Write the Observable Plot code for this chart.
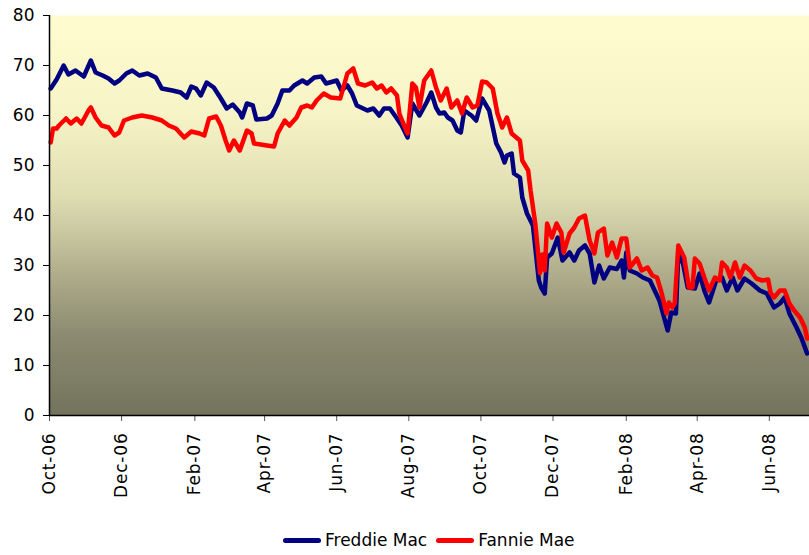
<!DOCTYPE html>
<html><head><meta charset="utf-8">
<script src="https://cdn.jsdelivr.net/npm/d3@7"></script>
<script src="https://cdn.jsdelivr.net/npm/@observablehq/plot@0.6"></script>
<style>
body{margin:0;background:#fff;font-family:"DejaVu Sans",sans-serif;}
#wrap{position:relative;width:809px;height:555px;overflow:hidden;}
#legend{position:absolute;left:283px;top:530px;display:flex;align-items:center;font-size:17px;line-height:20px;color:#000;white-space:nowrap;}
.sw{display:inline-block;width:38px;height:5px;border-radius:2.5px;margin-right:4px;}
.item{display:flex;align-items:center;margin-right:9px;}
</style></head><body>
<div id="wrap"><div id="chart"></div><div id="legend"></div></div>
<script>
const seriesNames = ["Freddie Mac", "Fannie Mae"];
const seriesColors = ["#000080", "#ff0000"];
const yTicks = [0, 10, 20, 30, 40, 50, 60, 70, 80];
const xTickLabels = ["Oct-06","Dec-06","Feb-07","Apr-07","Jun-07","Aug-07","Oct-07","Dec-07","Feb-08","Apr-08","Jun-08"];
const xDomainDates = ["2006-10-01", "2008-07-05"];

const freddieDates = ["2006-10-02","2006-10-07","2006-10-13","2006-10-17","2006-10-23","2006-10-30","2006-11-05","2006-11-09","2006-11-15","2006-11-20","2006-11-25","2006-11-29","2006-12-05","2006-12-10","2006-12-16","2006-12-23","2006-12-30","2007-01-04","2007-01-13","2007-01-20","2007-01-25","2007-01-29","2007-02-02","2007-02-06","2007-02-11","2007-02-17","2007-02-23","2007-02-28","2007-03-05","2007-03-11","2007-03-13","2007-03-17","2007-03-22","2007-03-25","2007-04-03","2007-04-07","2007-04-12","2007-04-16","2007-04-22","2007-04-26","2007-05-03","2007-05-07","2007-05-13","2007-05-19","2007-05-23","2007-06-01","2007-06-05","2007-06-10","2007-06-14","2007-06-18","2007-06-27","2007-07-02","2007-07-07","2007-07-11","2007-07-16","2007-07-22","2007-07-26","2007-07-31","2007-08-04","2007-08-10","2007-08-16","2007-08-20","2007-08-24","2007-08-27","2007-08-31","2007-09-03","2007-09-07","2007-09-11","2007-09-14","2007-09-17","2007-09-23","2007-09-27","2007-10-02","2007-10-08","2007-10-14","2007-10-18","2007-10-21","2007-10-23","2007-10-27","2007-10-29","2007-11-03","2007-11-05","2007-11-09","2007-11-14","2007-11-19","2007-11-21","2007-11-24","2007-11-26","2007-11-30","2007-12-05","2007-12-09","2007-12-15","2007-12-19","2007-12-23","2007-12-28","2008-01-01","2008-01-05","2008-01-09","2008-01-13","2008-01-18","2008-01-24","2008-01-28","2008-01-30","2008-02-01","2008-02-04","2008-02-10","2008-02-15","2008-02-21","2008-02-25","2008-02-29","2008-03-04","2008-03-07","2008-03-10","2008-03-14","2008-03-16","2008-03-20","2008-03-24","2008-03-30","2008-04-03","2008-04-07","2008-04-11","2008-04-17","2008-04-22","2008-04-26","2008-05-01","2008-05-05","2008-05-11","2008-05-17","2008-05-24","2008-05-30","2008-06-01","2008-06-05","2008-06-10","2008-06-14","2008-06-18","2008-06-24","2008-06-28","2008-07-03"];
const freddieValues = [65.4,67.2,70,68.2,69,67.8,71,68.6,68,67.4,66.4,67,68.4,69,68,68.4,67.6,65.4,65,64.6,63.6,65.8,65.4,64,66.6,65.6,63.4,61.4,62.2,60.6,59.6,62.4,62,59.2,59.4,60,62.4,65,65,66,67,66.4,67.6,67.8,66.4,67,65,66,64.4,62,61,61.4,60,61.4,61.4,59.4,58,55.6,62.4,60,62.6,64.6,61.6,60.4,60.6,59.6,59,57,56.6,61,60,59,63.4,61,54.4,52.6,50.6,52,52.4,48.4,47.6,43.6,40.4,38,27,25.6,24.4,31.6,32.4,35.6,31,32.6,31,33,34,32.4,26.6,30,27.4,29.6,29.3,31,27.6,32.6,29,28.4,27.6,27,25,23,19.6,17,20.6,20.4,32.4,30.4,25.6,25.4,28.4,25,22.6,27,27.6,25,27.6,25,27.4,26.4,25,24.4,23.4,21.6,22.4,23.6,20.4,17.6,15.6,12.4];

const fannieDates = ["2006-10-02","2006-10-04","2006-10-07","2006-10-09","2006-10-15","2006-10-19","2006-10-24","2006-10-28","2006-11-03","2006-11-05","2006-11-09","2006-11-14","2006-11-20","2006-11-25","2006-11-29","2006-12-03","2006-12-10","2006-12-18","2006-12-27","2007-01-04","2007-01-10","2007-01-16","2007-01-23","2007-01-29","2007-02-05","2007-02-09","2007-02-13","2007-02-19","2007-02-23","2007-02-27","2007-03-02","2007-03-06","2007-03-11","2007-03-17","2007-03-21","2007-03-23","2007-04-03","2007-04-09","2007-04-12","2007-04-18","2007-04-22","2007-04-28","2007-05-02","2007-05-07","2007-05-11","2007-05-15","2007-05-21","2007-05-27","2007-06-04","2007-06-10","2007-06-15","2007-06-19","2007-06-25","2007-07-01","2007-07-05","2007-07-09","2007-07-13","2007-07-17","2007-07-22","2007-07-24","2007-07-27","2007-07-31","2007-08-04","2007-08-07","2007-08-10","2007-08-14","2007-08-20","2007-08-24","2007-08-28","2007-09-02","2007-09-06","2007-09-11","2007-09-15","2007-09-19","2007-09-24","2007-09-28","2007-10-02","2007-10-06","2007-10-11","2007-10-15","2007-10-19","2007-10-23","2007-10-27","2007-11-03","2007-11-05","2007-11-10","2007-11-12","2007-11-16","2007-11-20","2007-11-22","2007-11-24","2007-11-26","2007-11-30","2007-12-04","2007-12-08","2007-12-10","2007-12-15","2007-12-19","2007-12-23","2007-12-28","2008-01-01","2008-01-05","2008-01-08","2008-01-13","2008-01-16","2008-01-20","2008-01-24","2008-01-28","2008-02-01","2008-02-04","2008-02-10","2008-02-14","2008-02-19","2008-02-23","2008-02-27","2008-03-02","2008-03-06","2008-03-08","2008-03-11","2008-03-13","2008-03-16","2008-03-21","2008-03-25","2008-03-28","2008-03-30","2008-04-03","2008-04-07","2008-04-11","2008-04-16","2008-04-20","2008-04-22","2008-04-26","2008-04-29","2008-05-03","2008-05-07","2008-05-11","2008-05-16","2008-05-21","2008-05-26","2008-05-31","2008-06-02","2008-06-05","2008-06-10","2008-06-14","2008-06-18","2008-06-22","2008-06-27","2008-07-01","2008-07-03"];
const fannieValues = [54.6,57.4,57.4,58,59.4,58.4,59.4,58.4,61,61.6,59.6,58,57.6,56,56.6,59,59.6,60,59.6,59,58,57.4,55.6,56.8,56.4,56,59.4,59.8,58,55,53,55,53,57,56.4,54.4,54,53.8,56.4,59,58,59.6,61.6,62,61.6,63,64.4,63.6,63.4,68.4,69.4,66.4,66,66.6,65.4,66,64.6,65.4,64,60.4,58.6,56.4,66.4,65.6,61.6,67,69,65.6,63,65.4,61.6,63,60.4,63.6,61.6,62,66.8,66.6,65.4,60.4,57.6,59.6,56.4,55,51,49,45,38.4,28.5,32.2,29,38.4,35.6,38.4,36.6,32.6,36.4,37.6,39.4,40,35,32.4,36.6,37.4,32,34.6,31.6,35.4,35.4,29.6,31.4,29,29.6,28,27.6,24.4,20.4,22.6,21.6,22.5,34,31.6,25.6,25.6,31.4,30.4,27.6,25,27.6,27,30.6,29.6,27.6,30.6,27.6,30,29,27.4,27,27.2,24.6,23.6,25,25,22.4,21,19.6,17.6,15.4];

const parse = d3.utcParse("%Y-%m-%d");
const rows = [];
freddieDates.forEach((d, i) => rows.push({series: seriesNames[0], date: parse(d), value: freddieValues[i]}));
fannieDates.forEach((d, i) => rows.push({series: seriesNames[1], date: parse(d), value: fannieValues[i]}));
const xDomain = xDomainDates.map(parse);
const fmt = d3.utcFormat("%b-%y");
const xTicks = d3.utcMonth.range(xDomain[0], xDomain[1]).filter(d => xTickLabels.includes(fmt(d)));

const chart = Plot.plot({
  width: 809,
  height: 515,
  marginTop: 15,
  marginLeft: 49,
  marginRight: 0,
  marginBottom: 100,
  style: {fontFamily: "DejaVu Sans, sans-serif", fontSize: "17px", color: "#000", background: "transparent", overflow: "visible"},
  x: {type: "utc", domain: xDomain},
  y: {domain: [0, 80]},
  color: {domain: seriesNames, range: seriesColors},
  marks: [
    Plot.frame({fill: "url(#bgGrad)", stroke: "none"}),
    Plot.axisY({ticks: yTicks, tickSize: 6, tickPadding: 9, label: null}),
    Plot.axisX({ticks: xTicks, tickSize: 6, tickPadding: 11, tickRotate: -90, tickFormat: fmt, label: null, stroke: "#555"}),
    Plot.lineY(rows, {x: "date", y: "value", z: "series", stroke: "series", strokeWidth: 4.5, strokeLinejoin: "round", strokeLinecap: "round"}),
    Plot.ruleX([xDomain[0]], {stroke: "#000", strokeWidth: 1.5}),
    Plot.ruleY([0], {stroke: "#000", strokeWidth: 1.5})
  ]
});

const svg = chart.tagName.toLowerCase() === "svg" ? chart : chart.querySelector("svg");
const defs = d3.select(svg).insert("defs", ":first-child");
const grad = defs.append("linearGradient").attr("id", "bgGrad").attr("x1", 0).attr("y1", 0).attr("x2", 0).attr("y2", 1);
[[0, "#fffdd0"], [0.25, "#f6f3c6"], [0.45, "#dfddb2"], [0.55, "#c8c69f"], [0.65, "#aeac8a"], [0.8, "#8c8b71"], [1, "#73725c"]]
  .forEach(([o, c]) => grad.append("stop").attr("offset", o).attr("stop-color", c));
d3.select(svg).selectAll('[aria-label="x-axis tick label"] text').style("letter-spacing", "0.8px");
document.getElementById("chart").appendChild(chart);

const legend = d3.select("#legend");
seriesNames.forEach((name, i) => {
  const item = legend.append("div").attr("class", "item");
  item.append("span").attr("class", "sw").style("background", seriesColors[i]);
  item.append("span").text(name);
});
</script>
</body></html>
